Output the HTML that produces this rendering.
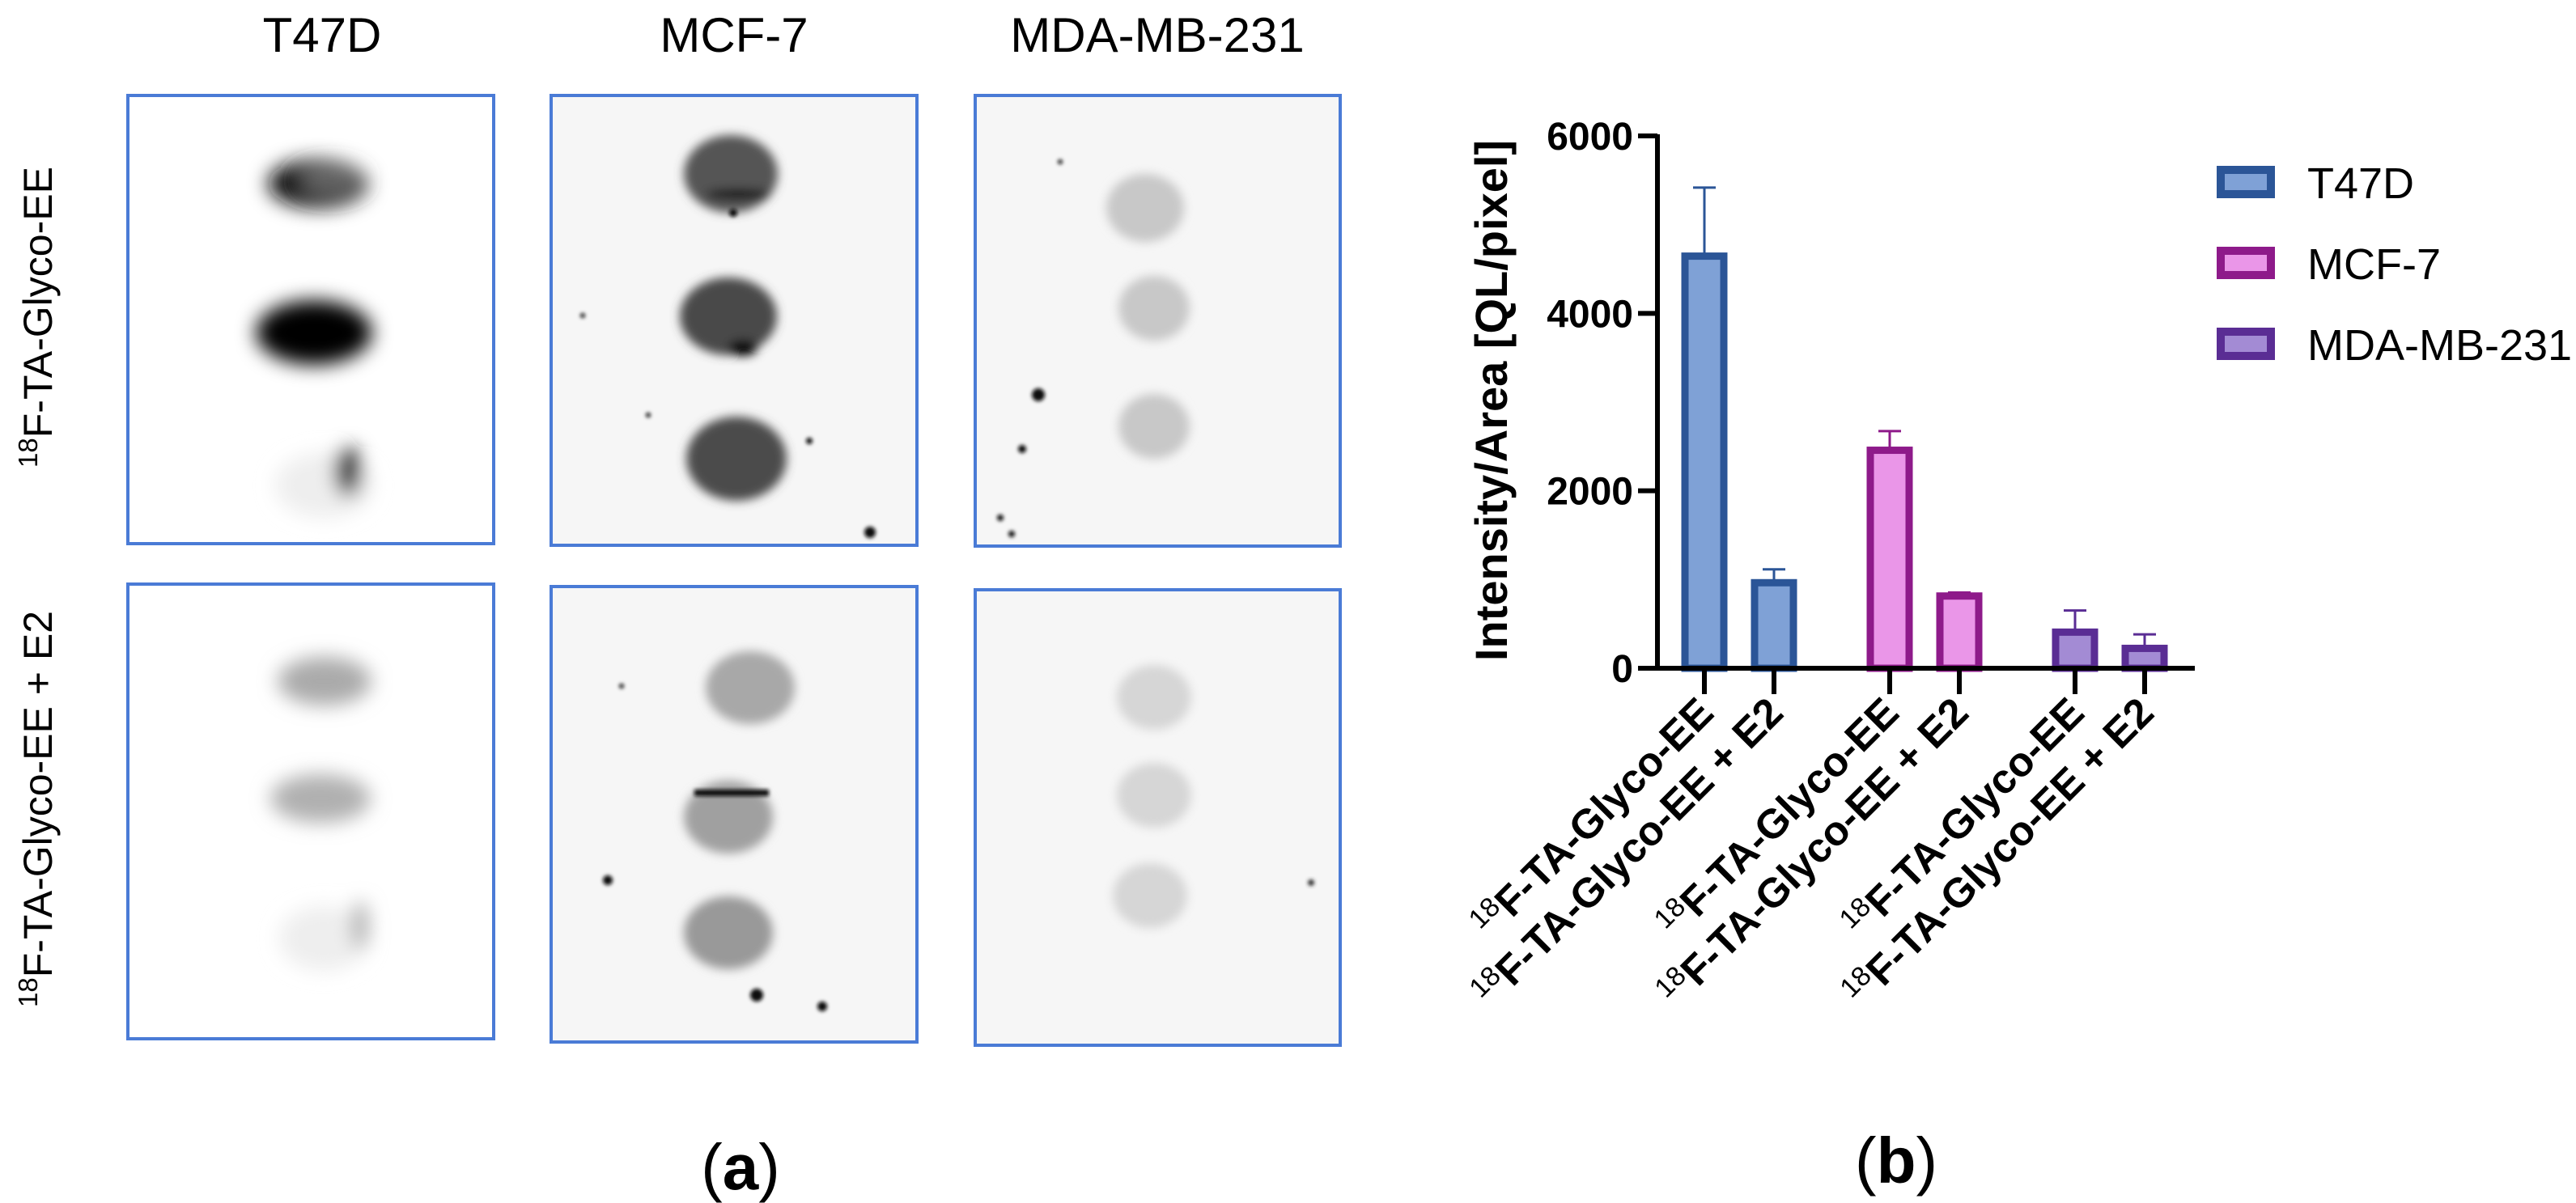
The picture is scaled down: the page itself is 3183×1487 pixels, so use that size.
<!DOCTYPE html>
<html><head><meta charset="utf-8"><style>
html,body{margin:0;padding:0;background:#fff}
svg{display:block}
text{font-family:"Liberation Sans",Arial,sans-serif}
</style></head><body>
<svg id="fig" width="3183" height="1487" viewBox="0 0 3183 1487" xmlns="http://www.w3.org/2000/svg">
<defs>
<filter id="b6" x="-50%" y="-50%" width="200%" height="200%"><feGaussianBlur stdDeviation="6"/></filter>
<filter id="b12" x="-50%" y="-50%" width="200%" height="200%"><feGaussianBlur stdDeviation="12"/></filter>
<filter id="b3" x="-50%" y="-50%" width="200%" height="200%"><feGaussianBlur stdDeviation="2.5"/></filter>
</defs>

<g>
<text x="398" y="64" font-size="60" text-anchor="middle">T47D</text>
<text x="907" y="64" font-size="60" text-anchor="middle">MCF-7</text>
<text x="1430" y="64" font-size="60" text-anchor="middle">MDA-MB-231</text>
<text transform="translate(64,392) rotate(-90)" font-size="50" text-anchor="middle"><tspan font-size="33" dy="-18">18</tspan><tspan dy="18">F-TA-Glyco-EE</tspan></text>
<text transform="translate(64,1000) rotate(-90)" font-size="50" text-anchor="middle"><tspan font-size="33" dy="-18">18</tspan><tspan dy="18">F-TA-Glyco-EE + E2</tspan></text>

<g>
<rect x="158" y="118" width="452" height="554" fill="#fff"/>
<g filter="url(#b12)"><ellipse cx="393" cy="227" rx="62" ry="30" fill="#111"/><ellipse cx="410" cy="222" rx="40" ry="18" fill="#666"/>
<ellipse cx="388" cy="411" rx="72" ry="40" fill="#000"/>
<ellipse cx="400" cy="600" rx="60" ry="40" fill="#eee"/><ellipse cx="430" cy="583" rx="16" ry="30" fill="#000"/></g>
<rect x="158" y="118" width="452" height="554" fill="none" stroke="#4a7bd6" stroke-width="4"/>
</g>
<g>
<rect x="681" y="118" width="452" height="556" fill="#f6f6f6"/>
<g filter="url(#b6)"><ellipse cx="903" cy="215" rx="58" ry="48" fill="#555"/><ellipse cx="900" cy="391" rx="60" ry="48" fill="#4a4a4a"/><ellipse cx="910" cy="567" rx="62" ry="52" fill="#4c4c4c"/>
<ellipse cx="912" cy="240" rx="40" ry="6" fill="#000"/><ellipse cx="918" cy="430" rx="18" ry="10" fill="#000"/></g>
<g filter="url(#b3)" fill="#111"><circle cx="906" cy="263" r="5"/><circle cx="1075" cy="658" r="7"/><circle cx="720" cy="390" r="3"/><circle cx="801" cy="513" r="3"/><circle cx="1000" cy="545" r="4"/></g>
<rect x="681" y="118" width="452" height="556" fill="none" stroke="#4a7bd6" stroke-width="4"/>
</g>
<g>
<rect x="1205" y="118" width="451" height="557" fill="#f6f6f6"/>
<g filter="url(#b6)" fill="#c8c8c8"><ellipse cx="1415" cy="257" rx="48" ry="42"/><ellipse cx="1426" cy="381" rx="44" ry="40"/><ellipse cx="1426" cy="527" rx="44" ry="40"/></g>
<g filter="url(#b3)" fill="#111"><circle cx="1283" cy="488" r="8"/><circle cx="1263" cy="555" r="5"/><circle cx="1236" cy="640" r="4"/><circle cx="1250" cy="660" r="4"/><circle cx="1310" cy="200" r="3"/></g>
<rect x="1205" y="118" width="451" height="557" fill="none" stroke="#4a7bd6" stroke-width="4"/>
</g>
<g>
<rect x="158" y="722" width="452" height="562" fill="#fff"/>
<g filter="url(#b12)"><ellipse cx="401" cy="842" rx="58" ry="30" fill="#aaa"/><ellipse cx="396" cy="987" rx="62" ry="30" fill="#b0b0b0"/><ellipse cx="400" cy="1160" rx="55" ry="40" fill="#eee"/><ellipse cx="445" cy="1144" rx="10" ry="30" fill="#aaa"/></g>
<rect x="158" y="722" width="452" height="562" fill="none" stroke="#4a7bd6" stroke-width="4"/>
</g>
<g>
<rect x="681" y="725" width="452" height="563" fill="#f6f6f6"/>
<g filter="url(#b6)"><ellipse cx="927" cy="850" rx="55" ry="45" fill="#a8a8a8"/><ellipse cx="900" cy="1010" rx="55" ry="45" fill="#a0a0a0"/><ellipse cx="900" cy="1153" rx="55" ry="45" fill="#999"/></g>
<rect x="858" y="976" width="92" height="8" fill="#111" filter="url(#b3)"/>
<g filter="url(#b3)" fill="#111"><circle cx="1016" cy="1244" r="6"/><circle cx="751" cy="1088" r="6"/><circle cx="768" cy="848" r="3"/><circle cx="935" cy="1230" r="8"/></g>
<rect x="681" y="725" width="452" height="563" fill="none" stroke="#4a7bd6" stroke-width="4"/>
</g>
<g>
<rect x="1205" y="729" width="451" height="563" fill="#f6f6f6"/>
<g filter="url(#b6)" fill="#d6d6d6"><ellipse cx="1426" cy="862" rx="46" ry="40"/><ellipse cx="1426" cy="983" rx="46" ry="40"/><ellipse cx="1421" cy="1107" rx="46" ry="40"/></g>
<circle cx="1620" cy="1091" r="4" fill="#333" filter="url(#b3)"/>
<rect x="1205" y="729" width="451" height="563" fill="none" stroke="#4a7bd6" stroke-width="4"/>
</g>
<text x="915" y="1470" font-size="80" text-anchor="middle">(<tspan font-weight="bold">a</tspan>)</text>
</g>

<g id="chart"></g>
<text x="2343" y="1462" font-size="80" text-anchor="middle">(<tspan font-weight="bold">b</tspan>)</text>
</svg>
<script>
const groups = ['T47D','MCF-7','MDA-MB-231'];
const conditions = ['F-TA-Glyco-EE','F-TA-Glyco-EE + E2'];
const meanT47D = [4645, 964];
const meanMCF7 = [2457, 814];
const meanMDA = [407, 224];
const errT47D = [773, 151];
const errMCF7 = [216, 40];
const errMDA = [244, 158];
const yTicks = [0, 2000, 4000, 6000];
const strokes = ['#2B5597','#8E1A8A','#5A2D94'];
const fills = ['#7FA1D6','#EA96E8','#A38BD4'];

const NS='http://www.w3.org/2000/svg';
const chart=document.getElementById('chart');
function mk(tag,attrs,parent){const e=document.createElementNS(NS,tag);for(const k in attrs)e.setAttribute(k,attrs[k]);(parent||chart).appendChild(e);return e;}
const y0=826, y6=168, yMax=6000;
function yS(v){return y0-(v/yMax)*(y0-y6);}
function xS(g,k){return 2106+229*g+86*k;}
const axisX=2048, bw=48;
const means=[meanT47D,meanMCF7,meanMDA], errs=[errT47D,errMCF7,errMDA];

const yt=mk('text',{transform:'translate(1862,495) rotate(-90)','font-size':'56','font-weight':'bold','text-anchor':'middle'});
yt.textContent='Intensity/Area [QL/pixel]';



for(let g=0;g<groups.length;g++){for(let k=0;k<conditions.length;k++){
  const cx=xS(g,k), v=means[g][k], e=errs[g][k];
  const eb=mk('g',{});
  
  
  mk('line',{x1:cx,x2:cx,y1:yS(v),y2:yS(v+e),stroke:strokes[g],'stroke-width':3},eb);
  mk('line',{x1:cx-14,x2:cx+14,y1:yS(v+e),y2:yS(v+e),stroke:strokes[g],'stroke-width':3},eb);
  const r=mk('rect',{x:cx-bw/2,y:yS(v),width:bw,height:y0-yS(v),fill:fills[g],stroke:strokes[g],'stroke-width':9});
  
  
}}

const ya=mk('line',{x1:axisX,x2:axisX,y1:y6-2,y2:y0+2,stroke:'#000','stroke-width':6});


const xa=mk('line',{x1:axisX-24,x2:2712,y1:y0,y2:y0,stroke:'#000','stroke-width':6});


yTicks.forEach(t=>{
  mk('line',{x1:axisX-24,x2:axisX,y1:yS(t),y2:yS(t),stroke:'#000','stroke-width':6});
  const tl=mk('text',{x:axisX-30,y:yS(t)+17,'font-size':'48','font-weight':'bold','text-anchor':'end'});
  tl.textContent=String(t);
  
  
});
for(let g=0;g<groups.length;g++){for(let k=0;k<conditions.length;k++){
  const cx=xS(g,k);
  mk('line',{x1:cx,x2:cx,y1:y0,y2:y0+32,stroke:'#000','stroke-width':6});
  const lb=mk('text',{transform:'translate('+(cx+14)+','+(y0+58)+') rotate(-45)','font-size':'51','font-weight':'bold','text-anchor':'end'});
  
  
  const s=mk('tspan',{'font-size':'34','font-weight':'normal',dy:'-18'},lb); s.textContent='18';
  const m=mk('tspan',{dy:'18'},lb); m.textContent=conditions[k];
}}

for(let g=0;g<groups.length;g++){
  const lg=mk('g',{});
  
  
  const yy=225+100*g;
  mk('rect',{x:2744,y:yy-15,width:62,height:30,fill:fills[g],stroke:strokes[g],'stroke-width':10},lg);
  const t=mk('text',{x:2851,y:yy+20,'font-size':'54'},lg); t.textContent=groups[g];
}
</script>
</body></html>
